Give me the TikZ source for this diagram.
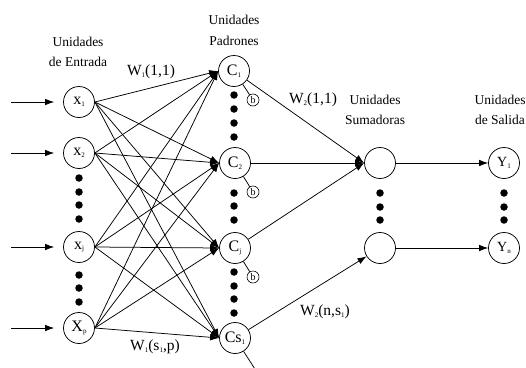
\documentclass[tikz,border=0pt]{standalone}
\usepackage{fontspec}
\setmainfont{Liberation Serif}
\usetikzlibrary{arrows.meta}

\tikzset{
  unit/.style={circle, draw, line width=0.75pt, minimum size=31pt, inner sep=0pt,
    font=\fontsize{16}{16}\selectfont},
  biasnode/.style={circle, draw, line width=0.6pt, minimum size=12pt, inner sep=0pt,
    font=\fontsize{10}{10}\selectfont},
  dotmark/.style={circle, fill=black, minimum size=7.5pt, inner sep=0pt},
  link/.style={line width=0.75pt, -{Latex[length=9pt,width=6.5pt]}},
  plain/.style={line width=0.75pt},
  caption/.style={font=\fontsize{13.5}{13.5}\selectfont, inner sep=0pt},
  weight/.style={font=\fontsize{15.5}{15.5}\selectfont, inner sep=0pt},
}
\newcommand{\sbx}[1]{\raisebox{-0.25ex}{\fontsize{7}{7}\selectfont #1}}

\begin{document}
\begin{tikzpicture}[x=1pt, y=-1pt]
  \useasboundingbox (0,0) rectangle (526,367);
  \clip (0,0) rectangle (526,367);

  % input units
  \node[unit] (x1) at (79,102) {x\sbx{1}};
  \node[unit] (x2) at (79,153) {x\sbx{2}};
  \node[unit] (xj) at (79,247) {x\sbx{j}};
  \node[unit] (xp) at (79,328) {X\sbx{p}};

  % pattern units
  \node[unit] (c1) at (234,71)  {C\sbx{1}};
  \node[unit] (c2) at (235,163) {C\sbx{2}};
  \node[unit] (cj) at (235,248) {C\sbx{j}};
  \node[unit] (cs) at (235,338) {Cs\sbx{1}};

  % bias units
  \node[biasnode] (b1) at (253,100) {b};
  \node[biasnode] (b2) at (253,192) {b};
  \node[biasnode] (bj) at (253,277) {b};
  \coordinate (bs) at (262,380);

  % summation units
  \node[unit] (s1) at (380,163) {};
  \node[unit] (s2) at (380,248) {};

  % output units
  \node[unit, font=\fontsize{14}{14}\selectfont] (y1) at (504,163) {Y\sbx{1}};
  \node[unit, font=\fontsize{14}{14}\selectfont] (yn) at (504,248) {Y\sbx{n}};

  % external inputs
  \coordinate (i1) at (11,102);
  \coordinate (i2) at (11,153);
  \coordinate (ij) at (11,247);
  \coordinate (ip) at (11,328);
  \foreach \a/\b in {i1/x1, i2/x2, ij/xj, ip/xp}
    \draw[link, shorten >=9pt] (\a) -- (\b.west);

  % fully connected first layer
  \foreach \a in {x1,x2,xj,xp}
    \foreach \b in {c1,c2,cj,cs}
      \draw[link] (\a.east) -- (\b.west);

  % bias connections
  \draw[plain] (c1) -- (b1);
  \draw[plain] (c2) -- (b2);
  \draw[plain] (cj) -- (bj);
  \draw[plain] (cs) -- (bs);

  % second layer
  \draw[link] (c1) -- (s1.west);
  \draw[link] (c2) -- (s1.west);
  \draw[link] (cj) -- (s1.west);
  \draw[link] (cs) -- (s2);

  % outputs
  \draw[link] (s1) -- (y1);
  \draw[link] (s2) -- (yn);

  % ellipsis dots
  \foreach \y in {178,192,205,219,275,288,302}
    \node[dotmark] at (79,\y) {};
  \foreach \y in {95,109,123,137,193,206,220,272,286,299,313}
    \node[dotmark] at (234,\y) {};
  \foreach \y in {193,207,220} {
    \node[dotmark] at (380,\y) {};
    \node[dotmark] at (504,\y) {};
  }

  % layer captions
  \node[caption] (t1a) at (78,42) {Unidades};
  \node[caption] (t1b) at (78,62) {de Entrada};
  \node[caption] (t2a) at (234,20) {Unidades};
  \node[caption] (t2b) at (234,41) {Padrones};
  \node[caption] (t3a) at (375,100) {Unidades};
  \node[caption] (t3b) at (375,120) {Sumadoras};
  \node[caption] (t4a) at (500,100) {Unidades};
  \node[caption] (t4b) at (500,120) {de Salida};

  % weight labels
  \node[weight] (w1) at (151,72)  {W\sbx{1}(1,1)};
  \node[weight] (w2) at (313,100) {W\sbx{2}(1,1)};
  \node[weight] (w3) at (155,347) {W\sbx{1}(s\sbx{1},p)};
  \node[weight] (w4) at (325,312) {W\sbx{2}(n,s\sbx{1})};
\end{tikzpicture}
\end{document}
